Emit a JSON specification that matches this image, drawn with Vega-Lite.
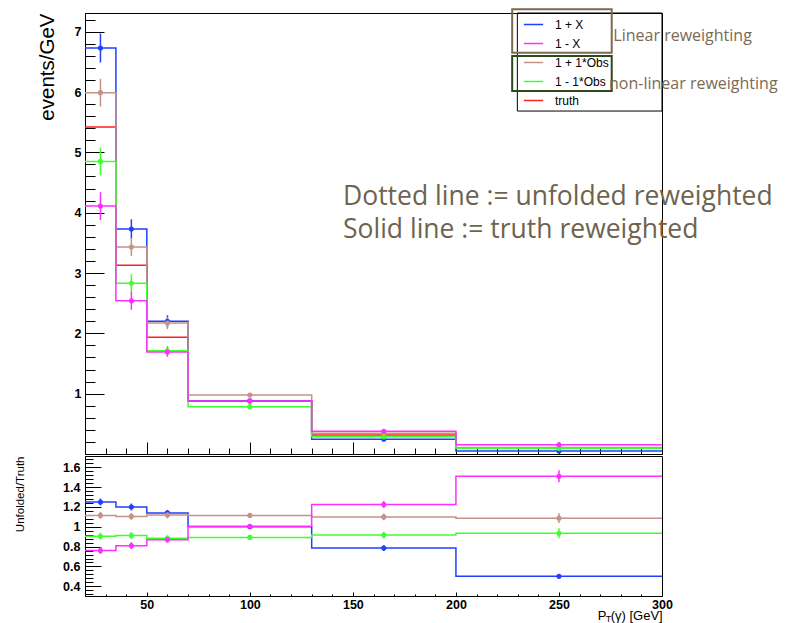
{
  "$schema": "https://vega.github.io/schema/vega-lite/v6.json",
  "padding": {"left": 13, "top": 7, "right": 0, "bottom": 0},
  "spacing": 0,
  "background": "white",
  "config": {
    "view": {"stroke": "black", "strokeWidth": 1},
    "font": "Liberation Sans",
    "axis": {"domainColor": "black", "tickColor": "black", "labelColor": "black", "grid": false, "labelFont": "Liberation Sans", "labelFontWeight": "bold", "labelFontSize": 12.5, "tickWidth": 1, "domainWidth": 1, "labelOverlap": false, "labelBound": false, "labelFlush": false}
  },
  "datasets": {
    "h": [
      {"s": "truth", "b": 1, "lo": 20, "hi": 35, "c": 27.5, "v": 5.42, "e": 0, "r": 1, "re": 0},
      {"s": "truth", "b": 2, "lo": 35, "hi": 50, "c": 42.5, "v": 3.13, "e": 0, "r": 1, "re": 0},
      {"s": "truth", "b": 3, "lo": 50, "hi": 70, "c": 60, "v": 1.935, "e": 0, "r": 1, "re": 0},
      {"s": "truth", "b": 4, "lo": 70, "hi": 130, "c": 100, "v": 0.88, "e": 0, "r": 1, "re": 0},
      {"s": "truth", "b": 5, "lo": 130, "hi": 200, "c": 165, "v": 0.313, "e": 0, "r": 1, "re": 0},
      {"s": "truth", "b": 6, "lo": 200, "hi": 300, "c": 250, "v": 0.1, "e": 0, "r": 1, "re": 0},
      {"s": "1 + X", "b": 1, "lo": 20, "hi": 35, "c": 27.5, "v": 6.73, "e": 0.24, "r": 1.25, "re": 0.035},
      {"s": "1 + X", "b": 2, "lo": 35, "hi": 50, "c": 42.5, "v": 3.73, "e": 0.16, "r": 1.2, "re": 0.035},
      {"s": "1 + X", "b": 3, "lo": 50, "hi": 70, "c": 60, "v": 2.2, "e": 0.1, "r": 1.14, "re": 0.03},
      {"s": "1 + X", "b": 4, "lo": 70, "hi": 130, "c": 100, "v": 0.88, "e": 0.03, "r": 1.0, "re": 0.02},
      {"s": "1 + X", "b": 5, "lo": 130, "hi": 200, "c": 165, "v": 0.245, "e": 0.015, "r": 0.785, "re": 0.03},
      {"s": "1 + X", "b": 6, "lo": 200, "hi": 300, "c": 250, "v": 0.05, "e": 0.01, "r": 0.5, "re": 0.02},
      {"s": "1 + 1*Obs", "b": 1, "lo": 20, "hi": 35, "c": 27.5, "v": 5.99, "e": 0.23, "r": 1.115, "re": 0.035},
      {"s": "1 + 1*Obs", "b": 2, "lo": 35, "hi": 50, "c": 42.5, "v": 3.43, "e": 0.15, "r": 1.105, "re": 0.035},
      {"s": "1 + 1*Obs", "b": 3, "lo": 50, "hi": 70, "c": 60, "v": 2.17, "e": 0.1, "r": 1.12, "re": 0.035},
      {"s": "1 + 1*Obs", "b": 4, "lo": 70, "hi": 130, "c": 100, "v": 0.977, "e": 0.03, "r": 1.115, "re": 0.02},
      {"s": "1 + 1*Obs", "b": 5, "lo": 130, "hi": 200, "c": 165, "v": 0.345, "e": 0.02, "r": 1.1, "re": 0.035},
      {"s": "1 + 1*Obs", "b": 6, "lo": 200, "hi": 300, "c": 250, "v": 0.109, "e": 0.01, "r": 1.087, "re": 0.05},
      {"s": "1 - 1*Obs", "b": 1, "lo": 20, "hi": 35, "c": 27.5, "v": 4.85, "e": 0.23, "r": 0.905, "re": 0.035},
      {"s": "1 - 1*Obs", "b": 2, "lo": 35, "hi": 50, "c": 42.5, "v": 2.83, "e": 0.15, "r": 0.912, "re": 0.035},
      {"s": "1 - 1*Obs", "b": 3, "lo": 50, "hi": 70, "c": 60, "v": 1.71, "e": 0.08, "r": 0.885, "re": 0.03},
      {"s": "1 - 1*Obs", "b": 4, "lo": 70, "hi": 130, "c": 100, "v": 0.785, "e": 0.03, "r": 0.893, "re": 0.02},
      {"s": "1 - 1*Obs", "b": 5, "lo": 130, "hi": 200, "c": 165, "v": 0.287, "e": 0.015, "r": 0.916, "re": 0.035},
      {"s": "1 - 1*Obs", "b": 6, "lo": 200, "hi": 300, "c": 250, "v": 0.094, "e": 0.01, "r": 0.935, "re": 0.05},
      {"s": "1 - X", "b": 1, "lo": 20, "hi": 35, "c": 27.5, "v": 4.11, "e": 0.23, "r": 0.76, "re": 0.035},
      {"s": "1 - X", "b": 2, "lo": 35, "hi": 50, "c": 42.5, "v": 2.54, "e": 0.15, "r": 0.81, "re": 0.035},
      {"s": "1 - X", "b": 3, "lo": 50, "hi": 70, "c": 60, "v": 1.69, "e": 0.08, "r": 0.87, "re": 0.03},
      {"s": "1 - X", "b": 4, "lo": 70, "hi": 130, "c": 100, "v": 0.88, "e": 0.03, "r": 1.005, "re": 0.02},
      {"s": "1 - X", "b": 5, "lo": 130, "hi": 200, "c": 165, "v": 0.377, "e": 0.02, "r": 1.225, "re": 0.035},
      {"s": "1 - X", "b": 6, "lo": 200, "hi": 300, "c": 250, "v": 0.152, "e": 0.01, "r": 1.51, "re": 0.06}
    ]
  },
  "vconcat": [
    {
      "width": 577,
      "height": 441,
      "data": {"name": "h"},
      "resolve": {"axis": {"x": "independent", "y": "independent"}},
      "layer": [
        {
          "transform": [{"fold": ["lo", "hi"], "as": ["edge", "xe"]}],
          "mark": {"type": "line", "strokeWidth": 1.5, "interpolate": "linear"},
          "encoding": {
            "x": {"field": "xe", "type": "quantitative", "scale": {"domain": [20, 300], "nice": false, "zero": false},
              "axis": {"orient": "bottom", "title": null, "values": [50, 100, 150, 200, 250, 300], "tickSize": -12, "labels": false}},
            "y": {"field": "v", "type": "quantitative", "scale": {"domain": [0, 7.31], "nice": false, "zero": false},
              "axis": {"orient": "left", "values": [1, 2, 3, 4, 5, 6, 7], "tickSize": -19,
                "labelExpr": "format(datum.value, 'd')",
                "labelPadding": 23,
                "title": "events/GeV", "titleFont": "Liberation Sans", "titleFontSize": 20.5, "titleFontWeight": "normal", "titleColor": "black",
                "titleX": -32, "titleY": 0, "titleAlign": "right", "titleBaseline": "alphabetic", "titleAngle": 270}},
            "color": {"field": "s", "type": "nominal",
              "scale": {"domain": ["1 + X", "1 - X", "1 + 1*Obs", "1 - 1*Obs", "truth"], "range": ["#2040ff", "#ff30ff", "#c49286", "#40ff30", "#ff2020"]},
              "legend": {"orient": "none", "legendX": 438, "legendY": 1, "title": null, "symbolType": "stroke", "symbolSize": 372, "symbolStrokeWidth": 1.5, "labelFont": "Liberation Sans", "labelFontSize": 12, "labelColor": "black", "labelOffset": 11, "rowPadding": 2, "padding": 0}},
            "order": [{"field": "b", "type": "quantitative"}, {"field": "edge", "type": "nominal", "sort": "descending"}]
          }
        },
        {
          "transform": [{"filter": "datum.s !== 'truth'"}],
          "mark": {"type": "errorbar", "thickness": 1.5},
          "encoding": {
            "x": {"field": "c", "type": "quantitative", "axis": null},
            "y": {"field": "v", "type": "quantitative", "axis": null},
            "yError": {"field": "e"},
            "color": {"field": "s", "type": "nominal", "legend": null}
          }
        },
        {
          "transform": [{"filter": "datum.s !== 'truth'"}],
          "mark": {"type": "circle", "size": 26, "opacity": 1},
          "encoding": {
            "x": {"field": "c", "type": "quantitative",
              "axis": {"orient": "bottom", "title": null, "domain": false, "labels": false, "tickSize": -6,
                "values": [30, 40, 60, 70, 80, 90, 110, 120, 130, 140, 160, 170, 180, 190, 210, 220, 230, 240, 260, 270, 280, 290]}},
            "y": {"field": "v", "type": "quantitative",
              "axis": {"orient": "left", "title": null, "domain": false, "labels": false, "tickSize": -10,
                "values": [0.2, 0.4, 0.6, 0.8, 1.2, 1.4, 1.6, 1.8, 2.2, 2.4, 2.6, 2.8, 3.2, 3.4, 3.6, 3.8, 4.2, 4.4, 4.6, 4.8, 5.2, 5.4, 5.6, 5.8, 6.2, 6.4, 6.6, 6.8, 7.2]}},
            "color": {"field": "s", "type": "nominal", "legend": null}
          }
        },
        {
          "data": {"values": [{}]},
          "mark": {"type": "rect", "filled": false, "stroke": "black", "strokeWidth": 1},
          "encoding": {"x": {"datum": 229.8, "axis": null}, "x2": {"datum": 300}, "y": {"datum": 7.31, "axis": null}, "y2": {"datum": 5.685}}
        },
        {
          "data": {"values": [{}]},
          "mark": {"type": "rect", "filled": false, "stroke": "#7a6a50", "strokeWidth": 2},
          "encoding": {"x": {"datum": 227.3, "axis": null}, "x2": {"datum": 275.6}, "y": {"datum": 7.371, "axis": null}, "y2": {"datum": 6.652}}
        },
        {
          "data": {"values": [{}]},
          "mark": {"type": "rect", "filled": false, "stroke": "#2d4a1e", "strokeWidth": 2},
          "encoding": {"x": {"datum": 227.3, "axis": null}, "x2": {"datum": 275.6}, "y": {"datum": 6.597, "axis": null}, "y2": {"datum": 6.017}}
        },
        {
          "data": {"values": [{}]},
          "mark": {"type": "text", "font": "Open Sans", "fontSize": 16, "color": "#7a6a55", "align": "left", "baseline": "alphabetic"},
          "encoding": {"x": {"datum": 276.4, "axis": null}, "y": {"datum": 6.846, "axis": null}, "text": {"value": "Linear reweighting"}}
        },
        {
          "data": {"values": [{}]},
          "mark": {"type": "text", "font": "Open Sans", "fontSize": 16, "color": "#7a6a55", "align": "left", "baseline": "alphabetic"},
          "encoding": {"x": {"datum": 274.3, "axis": null}, "y": {"datum": 6.045, "axis": null}, "text": {"value": "non-linear reweighting"}}
        },
        {
          "data": {"values": [{}]},
          "mark": {"type": "text", "font": "Open Sans", "fontSize": 26.5, "color": "#6f634f", "align": "left", "baseline": "alphabetic"},
          "encoding": {"x": {"datum": 145.2, "axis": null}, "y": {"datum": 4.122, "axis": null}, "text": {"value": "Dotted line := unfolded reweighted"}}
        },
        {
          "data": {"values": [{}]},
          "mark": {"type": "text", "font": "Open Sans", "fontSize": 26.5, "color": "#6f634f", "align": "left", "baseline": "alphabetic"},
          "encoding": {"x": {"datum": 145.2, "axis": null}, "y": {"datum": 3.585, "axis": null}, "text": {"value": "Solid line := truth reweighted"}}
        }
      ]
    },
    {
      "width": 577,
      "height": 140,
      "data": {"name": "h"},
      "resolve": {"axis": {"x": "independent", "y": "independent"}},
      "layer": [
        {
          "transform": [{"filter": "datum.s !== 'truth'"}, {"fold": ["lo", "hi"], "as": ["edge", "xe"]}],
          "mark": {"type": "line", "strokeWidth": 1.5, "interpolate": "linear"},
          "encoding": {
            "x": {"field": "xe", "type": "quantitative", "scale": {"domain": [20, 300], "nice": false, "zero": false},
              "axis": {"orient": "bottom", "title": null, "values": [50, 100, 150, 200, 250, 300], "tickSize": -4,
                "labelExpr": "format(datum.value, 'd')", "labelPadding": 6}},
            "y": {"field": "r", "type": "quantitative", "scale": {"domain": [0.302, 1.714], "nice": false, "zero": false},
              "axis": {"orient": "left", "values": [0.4, 0.6, 0.8, 1, 1.2, 1.4, 1.6], "tickSize": -16,
                "labelExpr": "format(datum.value, '.1~f')",
                "labelPadding": 21,
                "title": "Unfolded/Truth", "titleFont": "Liberation Sans", "titleFontSize": 11.5, "titleFontWeight": "normal", "titleColor": "black",
                "titleX": -62, "titleY": 0, "titleAlign": "right", "titleBaseline": "alphabetic", "titleAngle": 270}},
            "color": {"field": "s", "type": "nominal", "legend": null,
              "scale": {"domain": ["1 + X", "1 - X", "1 + 1*Obs", "1 - 1*Obs", "truth"], "range": ["#2040ff", "#ff30ff", "#c49286", "#40ff30", "#ff2020"]}},
            "order": [{"field": "b", "type": "quantitative"}, {"field": "edge", "type": "nominal", "sort": "descending"}]
          }
        },
        {
          "transform": [{"filter": "datum.s !== 'truth'"}],
          "mark": {"type": "errorbar", "thickness": 1.5},
          "encoding": {
            "x": {"field": "c", "type": "quantitative", "axis": null},
            "y": {"field": "r", "type": "quantitative", "axis": null},
            "yError": {"field": "re"},
            "color": {"field": "s", "type": "nominal", "legend": null}
          }
        },
        {
          "transform": [{"filter": "datum.s !== 'truth'"}],
          "mark": {"type": "circle", "size": 26, "opacity": 1},
          "encoding": {
            "x": {"field": "c", "type": "quantitative",
              "axis": {"orient": "bottom", "title": null, "domain": false, "labels": false, "tickSize": -2,
                "values": [30, 40, 60, 70, 80, 90, 110, 120, 130, 140, 160, 170, 180, 190, 210, 220, 230, 240, 260, 270, 280, 290]}},
            "y": {"field": "r", "type": "quantitative",
              "axis": {"orient": "left", "title": null, "domain": false, "labels": false, "tickSize": -8,
                "values": [0.32, 0.36, 0.44, 0.48, 0.52, 0.56, 0.64, 0.68, 0.72, 0.76, 0.84, 0.88, 0.92, 0.96, 1.04, 1.08, 1.12, 1.16, 1.24, 1.28, 1.32, 1.36, 1.44, 1.48, 1.52, 1.56, 1.64, 1.68]}},
            "color": {"field": "s", "type": "nominal", "legend": null}
          }
        },
        {
          "data": {"values": [{}]},
          "mark": {"type": "text", "font": "Liberation Sans", "fontSize": 13, "color": "black", "align": "left", "baseline": "alphabetic"},
          "encoding": {"x": {"datum": 268.8, "axis": null}, "y": {"datum": 0.055, "axis": null}, "text": {"value": "P"}}
        },
        {
          "data": {"values": [{}]},
          "mark": {"type": "text", "font": "Liberation Sans", "fontSize": 9, "color": "black", "align": "left", "baseline": "alphabetic", "dx": 8, "dy": 2},
          "encoding": {"x": {"datum": 268.8, "axis": null}, "y": {"datum": 0.055, "axis": null}, "text": {"value": "T"}}
        },
        {
          "data": {"values": [{}]},
          "mark": {"type": "text", "font": "Liberation Sans", "fontSize": 13, "color": "black", "align": "left", "baseline": "alphabetic", "dx": 13},
          "encoding": {"x": {"datum": 268.8, "axis": null}, "y": {"datum": 0.055, "axis": null}, "text": {"value": "(γ) [GeV]"}}
        }
      ]
    }
  ]
}
